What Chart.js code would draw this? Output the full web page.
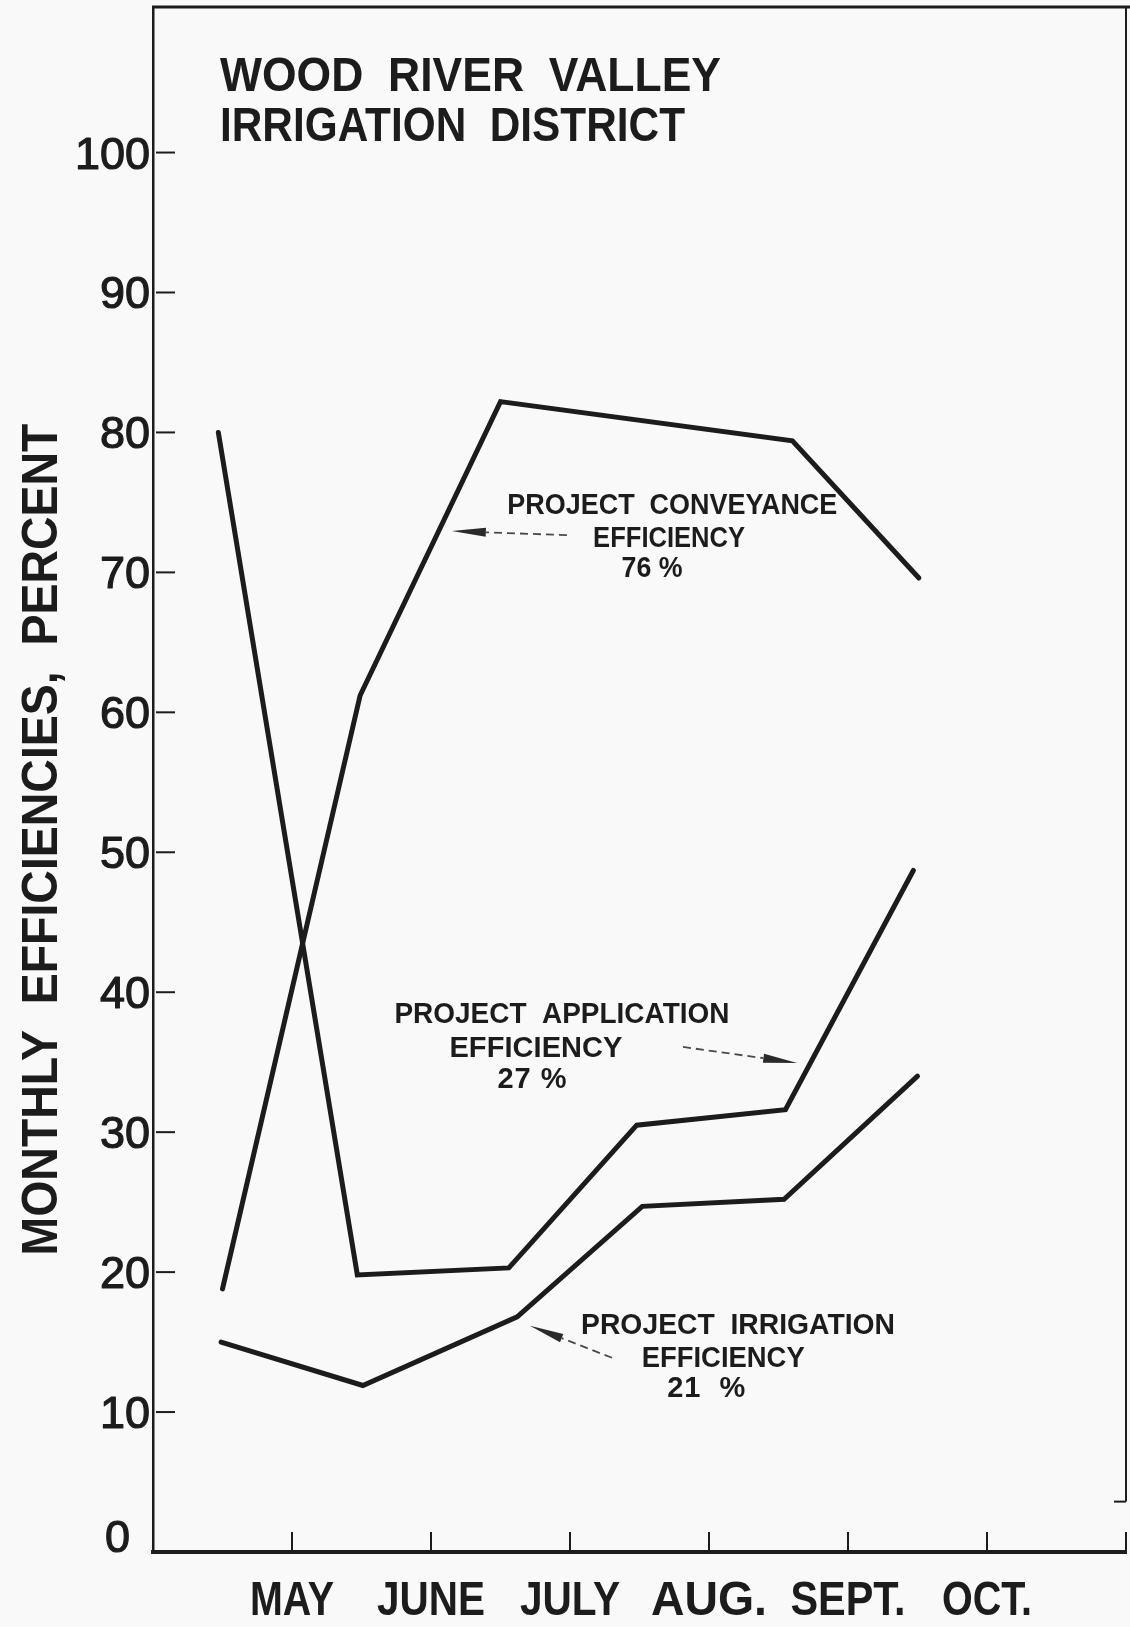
<!DOCTYPE html>
<html>
<head>
<meta charset="utf-8">
<title>Wood River Valley Irrigation District</title>
<script src="https://cdn.jsdelivr.net/npm/chart.js@4.4.1/dist/chart.umd.min.js"></script>
<style>
  html, body { margin: 0; padding: 0; background: #f9f9f9; }
  #wrap { width: 1130px; height: 1627px; }
  canvas { display: block; }
</style>
</head>
<body>
<div id="wrap"><canvas id="chart" width="1130" height="1627"></canvas></div>
<script>
// Month names written under the month ticks
const months = ['MAY', 'JUNE', 'JULY', 'AUG.', 'SEPT.', 'OCT.'];
// Percent ticks on the vertical axis
const percentTicks = [0, 10, 20, 30, 40, 50, 60, 70, 80, 90, 100];

// Monthly efficiencies: position along the month axis and value in percent
const conveyanceMonth  = [0.50, 1.49, 2.50, 4.60, 5.51];
const conveyancePct    = [18.8, 61.2, 82.2, 79.4, 69.6];

const applicationMonth = [0.47, 1.47, 2.56, 3.48, 4.55, 5.47];
const applicationPct   = [80.0, 19.8, 20.3, 30.5, 31.6, 48.7];

const irrigationMonth  = [0.49, 1.51, 2.62, 3.52, 4.54, 5.50];
const irrigationPct    = [15.0, 11.9, 16.8, 24.7, 25.2, 34.0];

const INK = '#1c1c1c';
const LETTER = '"Liberation Sans", Arial, "DejaVu Sans", sans-serif';

function points(xs, ys) {
  return xs.map((x, i) => ({ x: x, y: ys[i] }));
}

function lineSet(label, xs, ys) {
  return {
    label: label,
    data: points(xs, ys),
    borderColor: INK,
    borderWidth: 5,
    borderCapStyle: 'round',
    borderJoinStyle: 'miter',
    pointRadius: 0,
    tension: 0,
    fill: false
  };
}

// Lettering fitted to a given width: narrowed when too wide, spread when too short
function fitText(ctx, text, x, y, width) {
  ctx.save();
  const align = ctx.textAlign;
  if ('letterSpacing' in ctx) ctx.letterSpacing = '0px';
  const w = ctx.measureText(text).width;
  const sx = Math.min(1, width / w);
  let ls = 0;
  if (w < width && 'letterSpacing' in ctx && text.length > 1) {
    ls = (width - w) / (text.length - 1);
    ctx.letterSpacing = ls.toFixed(2) + 'px';
  }
  ctx.translate(x, y);
  ctx.scale(sx, 1);
  ctx.fillText(text, align === 'center' ? ls / 2 : 0, 0);
  ctx.restore();
}

function seg(ctx, x0, y0, x1, y1) {
  ctx.beginPath();
  ctx.moveTo(x0, y0);
  ctx.lineTo(x1, y1);
  ctx.stroke();
}

// Hand-lettered notes: centre (month units), baseline (percent), width (px)
const notes = [
  { text: 'PROJECT  CONVEYANCE',  x: 3.736, y: 74.16, w: 330 },
  { text: 'EFFICIENCY',           x: 3.713, y: 71.80, w: 152 },
  { text: '76 %',                 x: 3.590, y: 69.66, w: 61 },
  { text: 'PROJECT  APPLICATION', x: 2.942, y: 37.81, w: 335 },
  { text: 'EFFICIENCY',           x: 2.755, y: 35.38, w: 173 },
  { text: '27 %',                 x: 2.726, y: 33.16, w: 69 },
  { text: 'PROJECT  IRRIGATION',  x: 4.209, y: 15.59, w: 314 },
  { text: 'EFFICIENCY',           x: 4.102, y: 13.24, w: 163 },
  { text: '21  %',                x: 3.980, y: 11.09, w: 78 }
];

// Leader arrows from each note to its curve: tail and tip in chart units
const leaders = [
  { from: [2.978, 72.66], to: [2.150, 72.95] },
  { from: [3.813, 36.09], to: [4.634, 34.95] },
  { from: [3.302, 13.88], to: [2.712, 16.16] }
];

function drawLeader(ctx, x0, y0, x1, y1) {
  const ang = Math.atan2(y1 - y0, x1 - x0);
  const c = Math.cos(ang), s = Math.sin(ang);
  const headLen = 34, headW = 4.5;
  const bx = x1 - headLen * c, by = y1 - headLen * s;
  ctx.save();
  ctx.strokeStyle = '#4a4a4a';
  ctx.lineWidth = 1.8;
  ctx.setLineDash([8, 5]);
  seg(ctx, x0, y0, bx, by);
  ctx.setLineDash([]);
  ctx.fillStyle = '#2a2a2a';
  ctx.beginPath();
  ctx.moveTo(x1, y1);
  ctx.lineTo(bx + headW * s, by - headW * c);
  ctx.lineTo(bx - headW * s, by + headW * c);
  ctx.closePath();
  ctx.fill();
  ctx.restore();
}

const monthWidths = [84, 108, 100, 116, 115, 90];

const paperInk = {
  id: 'paperInk',
  beforeDraw(chart) {
    const ctx = chart.ctx;
    ctx.save();
    ctx.fillStyle = '#f9f9f9';
    ctx.fillRect(0, 0, chart.width, chart.height);
    ctx.restore();
  },
  afterDraw(chart) {
    const ctx = chart.ctx;
    const a = chart.chartArea;
    const xs = chart.scales.x, ys = chart.scales.y;
    ctx.save();
    ctx.strokeStyle = INK;
    ctx.fillStyle = INK;
    ctx.lineCap = 'butt';

    // frame: top edge and right edge with its foot mark
    ctx.lineWidth = 3;
    seg(ctx, a.left - 1, a.top, chart.width, a.top);
    ctx.lineWidth = 2;
    const footY = ys.getPixelForValue(3.6);
    seg(ctx, a.right, a.top, a.right, footY);
    seg(ctx, a.right, footY, a.right - 12, footY);

    // inward tick marks
    ctx.lineWidth = 2;
    ys.ticks.forEach(t => {
      if (t.value === 0) return;
      const py = ys.getPixelForValue(t.value);
      seg(ctx, a.left + 3, py, a.left + 22, py);
    });
    xs.ticks.forEach(t => {
      if (t.value === 0) return;
      const px = xs.getPixelForValue(t.value);
      seg(ctx, px, a.bottom, px, a.bottom - 20);
    });

    // percent labels
    ctx.font = '45px ' + LETTER;
    ctx.textAlign = 'right';
    ctx.textBaseline = 'alphabetic';
    ctx.lineWidth = 1.2;
    ctx.lineJoin = 'round';
    ys.ticks.forEach(t => {
      const py = ys.getPixelForValue(t.value);
      const lx = t.value === 0 ? a.left - 23 : a.left - 3;
      const ly = t.value === 0 ? py : py + 16;
      ctx.fillText(String(t.value), lx, ly);
      ctx.strokeText(String(t.value), lx, ly);
    });

    // month labels
    ctx.font = 'bold 49px ' + LETTER;
    ctx.textAlign = 'center';
    xs.ticks.forEach(t => {
      const i = t.value - 1;
      if (i < 0 || i >= months.length) return;
      fitText(ctx, months[i], xs.getPixelForValue(t.value), a.bottom + 63, monthWidths[i]);
    });

    // vertical axis title
    ctx.save();
    ctx.font = 'bold 50px ' + LETTER;
    ctx.translate(57, (a.top + a.bottom) / 2 + 60);
    ctx.rotate(-Math.PI / 2);
    ctx.textAlign = 'center';
    fitText(ctx, 'MONTHLY  EFFICIENCIES,  PERCENT', 0, 0, 832);
    ctx.restore();

    // heading
    ctx.font = 'bold 48px ' + LETTER;
    ctx.textAlign = 'left';
    fitText(ctx, 'WOOD  RIVER  VALLEY', a.left + 67, a.top + 84, 501);
    fitText(ctx, 'IRRIGATION  DISTRICT', a.left + 67, a.top + 134, 465);

    // notes on the curves
    ctx.font = 'bold 29px ' + LETTER;
    ctx.textAlign = 'center';
    notes.forEach(n => {
      fitText(ctx, n.text, xs.getPixelForValue(n.x), ys.getPixelForValue(n.y), n.w);
    });
    leaders.forEach(l => {
      drawLeader(ctx,
        xs.getPixelForValue(l.from[0]), ys.getPixelForValue(l.from[1]),
        xs.getPixelForValue(l.to[0]), ys.getPixelForValue(l.to[1]));
    });
    ctx.restore();
  }
};

new Chart(document.getElementById('chart'), {
  type: 'line',
  data: {
    datasets: [
      lineSet('Project conveyance efficiency', conveyanceMonth, conveyancePct),
      lineSet('Project application efficiency', applicationMonth, applicationPct),
      lineSet('Project irrigation efficiency', irrigationMonth, irrigationPct)
    ]
  },
  options: {
    responsive: false,
    animation: false,
    devicePixelRatio: 1,
    layout: { padding: { left: 153, top: 7, right: 4, bottom: 75 } },
    plugins: { legend: { display: false }, tooltip: { enabled: false }, title: { display: false } },
    scales: {
      x: {
        type: 'linear',
        min: 0,
        max: 7,
        afterBuildTicks: s => { s.ticks = [0, 1, 2, 3, 4, 5, 6, 7].map(v => ({ value: v })); },
        afterFit: s => { s.height = 0; },
        ticks: { display: false },
        grid: { display: false, drawTicks: false },
        border: { display: true, width: 4, color: INK }
      },
      y: {
        type: 'linear',
        min: 0,
        max: 110.4,
        afterBuildTicks: s => { s.ticks = percentTicks.map(v => ({ value: v })); },
        afterFit: s => { s.width = 0; },
        ticks: { display: false },
        grid: { display: false, drawTicks: false },
        border: { display: true, width: 2.5, color: INK }
      }
    }
  },
  plugins: [paperInk]
});
</script>
</body>
</html>
